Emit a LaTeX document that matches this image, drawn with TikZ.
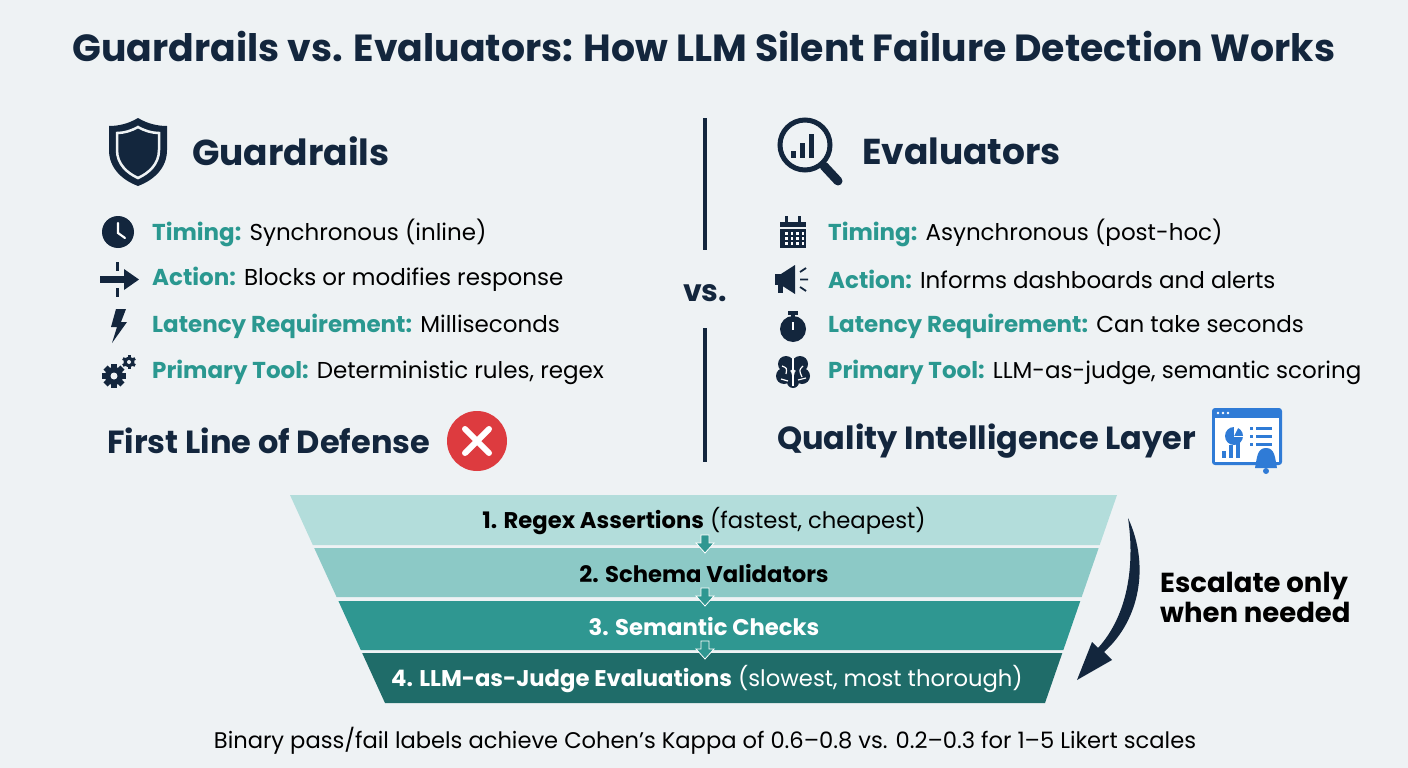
\documentclass[tikz,border=0pt]{standalone}
\usepackage{fontspec}
\setmainfont{Poppins}
\usetikzlibrary{arrows.meta,calc}
\definecolor{bg}{HTML}{EEF2F4}
\definecolor{navy}{HTML}{13263D}
\definecolor{teal}{HTML}{2A9890}
\definecolor{bandA}{HTML}{B3DDDB}
\definecolor{bandB}{HTML}{8CC9C6}
\definecolor{bandC}{HTML}{2F9791}
\definecolor{bandD}{HTML}{1F6C69}
\definecolor{xred}{HTML}{DD3B3F}
\definecolor{dblue}{HTML}{2F7BD6}
\tikzset{
  rowtxt/.style={anchor=west,inner sep=0pt,font=\fontsize{23}{26}\selectfont,text=black},
  headtxt/.style={anchor=west,inner sep=0pt,font=\fontsize{36}{40}\selectfont\bfseries,text=navy},
  layertxt/.style={anchor=west,inner sep=0pt,font=\fontsize{32}{36}\selectfont\bfseries,text=navy},
  bandtxt/.style={inner sep=0pt,font=\fontsize{22.7}{26}\selectfont},
  smallarr/.style={fill=bandC,draw=white,line width=0.8pt}
}
\newcommand{\lbl}[1]{\textcolor{teal}{\bfseries #1}}
\begin{document}
\begin{tikzpicture}[x=1pt,y=-1pt]
\fill[bg] (0,0) rectangle (1408,768);
\useasboundingbox (0,0) rectangle (1408,768);
% title
\node[inner sep=0pt,font=\fontsize{37.8}{42}\selectfont\bfseries,text=navy] (title) at (704,47) {Guardrails vs. Evaluators: How LLM Silent Failure Detection Works};
% divider
\draw[navy,line width=3.5pt] (705,118) -- (705,250);
\draw[navy,line width=3.5pt] (705,328) -- (705,462);
\node[inner sep=0pt,font=\fontsize{30}{34}\selectfont\bfseries,text=navy] (vs) at (705,293) {vs.};
% ---- left
\fill[navy] (138,118) .. controls (128,124) and (118,126) .. (109,126) -- (109,150) .. controls (109,168) and (122,180) .. (138,186) .. controls (154,180) and (167,168) .. (167,150) -- (167,126) .. controls (158,126) and (148,124) .. (138,118) -- cycle;
\draw[bg,line width=2.5pt] (138,127) .. controls (131,131) and (124,133) .. (117,133) -- (117,150) .. controls (117,164) and (127,173) .. (138,178) .. controls (149,173) and (159,164) .. (159,150) -- (159,133) .. controls (152,133) and (145,131) .. (138,127) -- cycle;
\node[headtxt] (gh) at (192,151) {Guardrails};
\fill[navy] (118,232) circle (16);
\draw[white,line width=2.2pt,line cap=round] (118,223) -- (118,233) -- (125,238);
\fill[navy] (100,276) rectangle (126,283);
\fill[navy] (124,269) -- (139,279.5) -- (124,290) -- cycle;
\fill[navy] (116,262) rectangle (119,271);
\fill[navy] (116,288) rectangle (119,297);
\fill[navy] (116,309) -- (126,309) -- (121,322) -- (127,322) -- (112,343) -- (117,327) -- (111,327) -- cycle;
\fill[navy] (114,376) circle (9);
\foreach \a in {0,45,...,315} \fill[navy,rotate around={\a:(114,376)}] (111,364) rectangle (117,369);
\fill[bg] (114,376) circle (3.5);
\fill[navy] (129,362) circle (5.5);
\foreach \a in {0,60,...,300} \fill[navy,rotate around={\a:(129,362)}] (127.5,355) rectangle (130.5,358);
\fill[bg] (129,362) circle (2);
\node[rowtxt] (g1) at (152,233) {\lbl{Timing:} Synchronous (inline)};
\node[rowtxt] (g2) at (152,279) {\lbl{Action:} Blocks or modifies response};
\node[rowtxt] (g3) at (152,326) {\lbl{Latency Requirement:} Milliseconds};
\node[rowtxt] (g4) at (152,372) {\lbl{Primary Tool:} Deterministic rules, regex};
\node[layertxt] (gl) at (107,441) {First Line of Defense};
\fill[xred] (477,441) circle (30);
\draw[white,line width=6pt,line cap=round] (465,429) -- (489,453) (489,429) -- (465,453);
% ---- right
\draw[navy,line width=5pt] (805,145) circle (25);
\draw[navy,line width=9pt,line cap=round] (824,166) -- (838,181);
\fill[navy] (791,151) rectangle (796,158);
\fill[navy] (800,143) rectangle (805,158);
\fill[navy] (809,134) rectangle (814,158);
\node[headtxt] (eh) at (862,151) {Evaluators};
\fill[navy] (780,222) rectangle (806,248);
\fill[navy] (785,216) rectangle (788,223);
\fill[navy] (798,216) rectangle (801,223);
\fill[bg] (780,227) rectangle (806,228.5);
\foreach \i in {0,1,2,3} \foreach \j in {0,1,2} \fill[white] (785+\i*5.5,232+\j*5) rectangle +(2.5,2.5);
\fill[navy] (775,274) rectangle (782,285);
\fill[navy] (781,274) -- (795,265) -- (795,294) -- (781,285) -- cycle;
\fill[navy] (778,285) rectangle (783,293);
\draw[navy,line width=1.8pt] (800,272) -- (806,268) (800,279.5) -- (808,279.5) (800,287) -- (806,291);
\fill[navy] (793,329) circle (13);
\fill[navy] (788,311) rectangle (798,315);
\fill[navy] (791,314) rectangle (795,318);
\draw[white,line width=2.5pt] (793,322) -- (793,330);
% brain
\fill[navy] (786,364) circle (8) (800,364) circle (8) (784,376) circle (8) (802,376) circle (8) (793,382) circle (6);
\draw[white,line width=1.2pt] (793,358) -- (793,386);
\draw[white,line width=1.2pt] (782,366) .. controls (787,368) .. (786,374) (803,366) .. controls (799,370) .. (802,377) (781,379) -- (788,381) (798,380) -- (806,378);
\node[rowtxt] (e1) at (828,233) {\lbl{Timing:} Asynchronous (post-hoc)};
\node[rowtxt] (e2) at (828,279) {\lbl{Action:} Informs dashboards and alerts};
\node[rowtxt] (e3) at (828,326) {\lbl{Latency Requirement:} Can take seconds};
\node[rowtxt] (e4) at (828,372) {\lbl{Primary Tool:} LLM-as-judge, semantic scoring};
\node[layertxt] (el) at (777,441) {Quality Intelligence Layer};
\fill[dblue,rounded corners=3pt] (1212,408) rectangle (1282,465);
\fill[white] (1215,418) rectangle (1279,462);
\fill[dblue] (1234,436) circle (9);
\fill[white] (1234,436) -- (1234,427) arc (90:0:9) -- cycle;
\draw[white,line width=1pt] (1234,436) -- (1243,436);
\foreach \y in {428,436,444}{ \fill[dblue] (1250,\y-1.5) rectangle (1253,\y+1.5); \fill[dblue] (1256,\y-1.5) rectangle (1272,\y+1.5);}
\fill[dblue] (1222,451) rectangle (1226,458);
\fill[dblue] (1229,445) rectangle (1233,458);
\fill[dblue] (1236,440) rectangle (1240,458);
\fill[dblue] (1266,448) .. controls (1257,448) and (1257,458) .. (1255,468) -- (1277,468) .. controls (1275,458) and (1275,448) .. (1266,448) -- cycle;
\fill[dblue] (1266,471) circle (3);
\foreach \x in {1218,1223,1228} \fill[white] (\x,413) circle (1.3);
% ---- funnel
\newcommand{\band}[3]{%
 \fill[#3] ($(290,495)!{(#1-495)/208}!(385,703)$) -- ($(1117,495)!{(#1-495)/208}!(1045,703)$) -- ($(1117,495)!{(#2-495)/208}!(1045,703)$) -- ($(290,495)!{(#2-495)/208}!(385,703)$) -- cycle;}
\band{495}{545}{bandA}
\band{548}{597}{bandB}
\band{601}{650}{bandC}
\band{653}{703}{bandD}
\node[bandtxt,text=black] (b1) at (704,521) {\bfseries 1. Regex Assertions\mdseries\ (fastest, cheapest)};
\node[bandtxt,text=black] (b2) at (704,573) {\bfseries 2. Schema Validators};
\node[bandtxt,text=white] (b3) at (704,626) {\bfseries 3. Semantic Checks};
\node[bandtxt,text=white] (b4) at (707,679) {\bfseries 4. LLM-as-Judge Evaluations\mdseries\ (slowest, most thorough)};
\foreach \y in {535,588,641}
  \filldraw[smallarr] (701,\y) -- (709,\y) -- (709,\y+8) -- (714,\y+8) -- (705,\y+18) -- (696,\y+8) -- (701,\y+8) -- cycle;
\fill[navy] (1128,518) .. controls (1150,565) and (1140,620) .. (1104,652) -- (1112,660) -- (1077,680) -- (1092,642) -- (1098,648) .. controls (1128,615) and (1135,565) .. (1128,518) -- cycle;
\node[inner sep=0pt,align=left,anchor=west,font=\fontsize{27.5}{30}\selectfont\bfseries,text=black] (esc) at (1160,597) {Escalate only\\when needed};
\node[inner sep=0pt,font=\fontsize{22.6}{26}\selectfont,text=black] (foot) at (705,741) {Binary pass/fail labels achieve Cohen’s Kappa of 0.6–0.8 vs. 0.2–0.3 for 1–5 Likert scales};
\end{tikzpicture}
\end{document}
